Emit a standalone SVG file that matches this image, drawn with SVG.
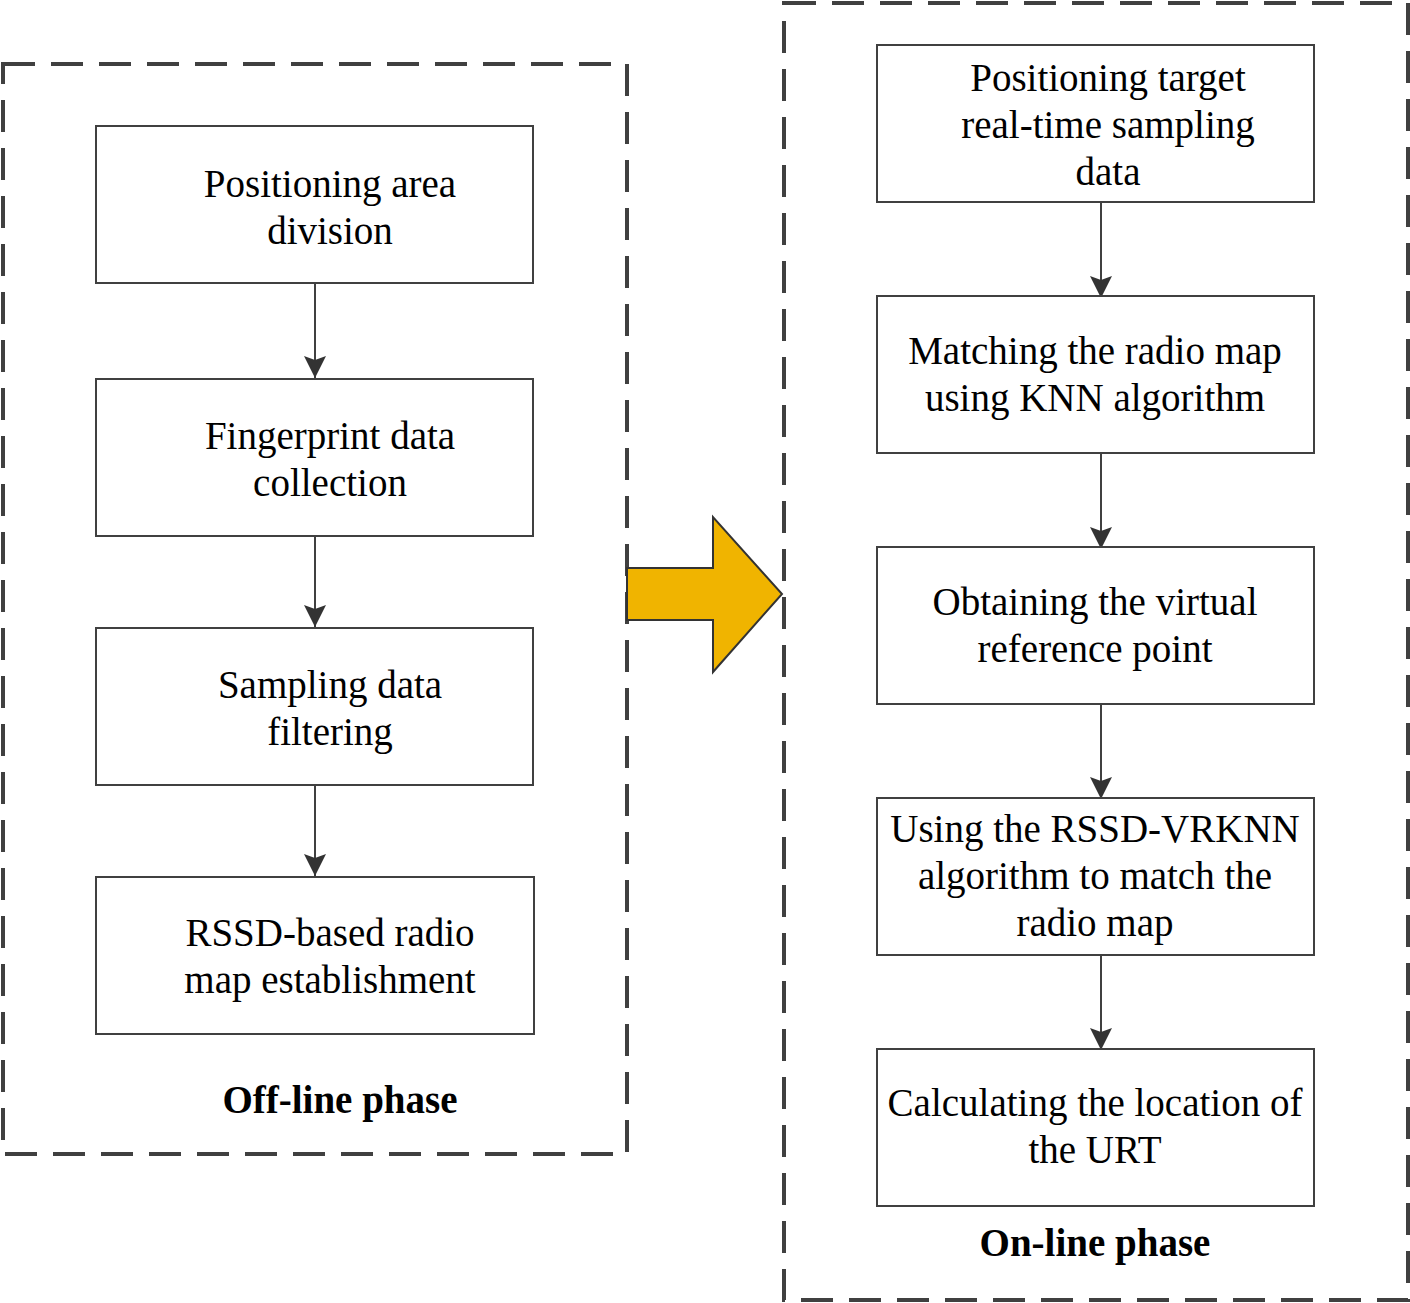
<svg xmlns="http://www.w3.org/2000/svg" width="1410" height="1303" viewBox="0 0 1410 1303">
<style>
.frame{fill:none;stroke:#404040;stroke-width:4;stroke-dasharray:32 16}
.box{fill:#fff;stroke:#404040;stroke-width:2}
.t{font-family:"Liberation Serif","Times New Roman",serif;font-size:39px;fill:#000;text-anchor:middle}
.b{font-weight:bold}
.c{stroke:#404040;stroke-width:2;fill:none}
</style>
<defs>
<marker id="ah" markerWidth="24" markerHeight="24" refX="22" refY="12" orient="auto" markerUnits="userSpaceOnUse">
<path d="M0,1 L22,12 L0,23 L4,12 Z" fill="#333"/>
</marker>
</defs>
<rect width="1410" height="1303" fill="#fff"/>
<g id="offline-frame">
<rect class="frame" x="3" y="64" width="624" height="1090"/>
<text class="t b" x="340" y="1113">Off-line phase</text>
</g>
<g id="online-frame">
<rect class="frame" x="784" y="3" width="624" height="1297"/>
<text class="t b" x="1095" y="1256">On-line phase</text>
</g>
<g id="big-arrow">
<polygon points="627,568 713,568 713,517 782,594 713,672 713,620 627,620" fill="#f0b400" stroke="#333" stroke-width="2"/>
</g>
<g id="connectors">
<line class="c" x1="315" y1="283" x2="315" y2="378" marker-end="url(#ah)"/>
<line class="c" x1="315" y1="536" x2="315" y2="627" marker-end="url(#ah)"/>
<line class="c" x1="315" y1="785" x2="315" y2="876" marker-end="url(#ah)"/>
<line class="c" x1="1101" y1="202" x2="1101" y2="298" marker-end="url(#ah)"/>
<line class="c" x1="1101" y1="453" x2="1101" y2="549" marker-end="url(#ah)"/>
<line class="c" x1="1101" y1="704" x2="1101" y2="799" marker-end="url(#ah)"/>
<line class="c" x1="1101" y1="955" x2="1101" y2="1050" marker-end="url(#ah)"/>
</g>
<g id="n1"><rect class="box" x="96" y="126" width="437" height="157"/>
<text class="t" x="330" y="197">Positioning area</text><text class="t" x="330" y="244">division</text></g>
<g id="n2"><rect class="box" x="96" y="379" width="437" height="157"/>
<text class="t" x="330" y="449">Fingerprint data</text><text class="t" x="330" y="496">collection</text></g>
<g id="n3"><rect class="box" x="96" y="628" width="437" height="157"/>
<text class="t" x="330" y="698">Sampling data</text><text class="t" x="330" y="745">filtering</text></g>
<g id="n4"><rect class="box" x="96" y="877" width="438" height="157"/>
<text class="t" x="330" y="946">RSSD-based radio</text><text class="t" x="330" y="993">map establishment</text></g>
<g id="m1"><rect class="box" x="877" y="45" width="437" height="157"/>
<text class="t" x="1108" y="91">Positioning target</text><text class="t" x="1108" y="138">real-time sampling</text><text class="t" x="1108" y="185">data</text></g>
<g id="m2"><rect class="box" x="877" y="296" width="437" height="157"/>
<text class="t" x="1095" y="364">Matching the radio map</text><text class="t" x="1095" y="411">using KNN algorithm</text></g>
<g id="m3"><rect class="box" x="877" y="547" width="437" height="157"/>
<text class="t" x="1095" y="615">Obtaining the virtual</text><text class="t" x="1095" y="662">reference point</text></g>
<g id="m4"><rect class="box" x="877" y="798" width="437" height="157"/>
<text class="t" x="1095" y="842">Using the RSSD-VRKNN</text><text class="t" x="1095" y="889">algorithm to match the</text><text class="t" x="1095" y="936">radio map</text></g>
<g id="m5"><rect class="box" x="877" y="1049" width="437" height="157"/>
<text class="t" x="1095" y="1116">Calculating the location of</text><text class="t" x="1095" y="1163">the URT</text></g>
</svg>
